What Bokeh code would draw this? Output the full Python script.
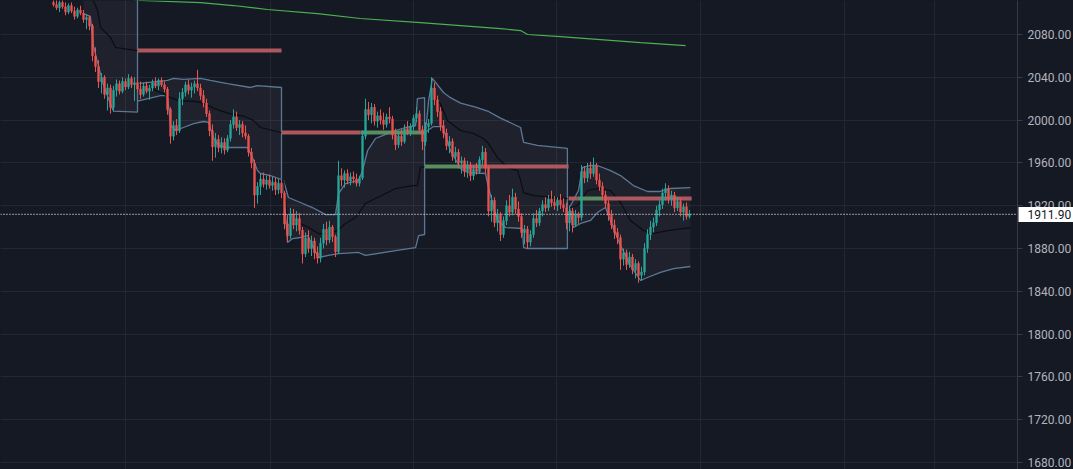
from bokeh.plotting import figure
from bokeh.models import (Range1d, FixedTicker, NumeralTickFormatter, Span, Label, Grid,
                          LinearAxis, ColumnDataSource, GlobalInlineStyleSheet)
from bokeh.embed import file_html
from bokeh.resources import INLINE

# ---------------- data ----------------
first_bar = 1
opens = [2110,2108,2105,2110,2106,2101,2107,2102,2097,2103,
         2100,2094,2096,2088,2060,2050,2036,2040,2024,2030,
         2012,2028,2034,2027,2036,2031,2039,2033,2035,2029,
         2024,2032,2027,2030,2035,2032,2037,2033,2029,2010,
         1985,1995,1990,2020,2026,2033,2028,2031,2034,2030,
         2023,2016,2006,1990,1975,1982,1974,1979,1972,1983,
         1996,2003,1993,1996,1988,1985,1970,1960,1930,1938,
         1945,1940,1944,1939,1942,1935,1941,1932,1903,1892,
         1912,1902,1908,1897,1875,1890,1880,1887,1876,1871,
         1885,1898,1888,1900,1891,1877,1948,1944,1950,1943,
         1947,1945,1941,1946,1985,2010,2005,2012,1999,2004,
         2000,1996,2003,2001,1986,1977,1985,1980,1992,1989,
         1994,2002,2006,1991,1980,1994,1997,2030,2019,2008,
         1995,1988,1976,1980,1966,1970,1960,1962,1952,1958,
         1948,1954,1952,1963,1970,1955,1915,1925,1904,1911,
         1893,1906,1920,1914,1928,1917,1910,1895,1898,1886,
         1893,1908,1904,1915,1921,1918,1926,1923,1920,1925,
         1921,1918,1904,1915,1902,1912,1909,1952,1946,1955,
         1950,1957,1944,1938,1930,1922,1911,1902,1895,1890,
         1870,1876,1865,1872,1860,1866,1855,1858,1880,1893,
         1900,1904,1916,1921,1932,1936,1926,1930,1918,1924,
         1914,1919,1910]
highs = [2116,2113,2112,2114,2110,2109,2110,2106,2105,2107,
         2103,2099,2098,2090,2068,2056,2044,2042,2034,2033,
         2032,2038,2037,2040,2039,2043,2041,2040,2038,2036,
         2035,2036,2033,2038,2040,2039,2040,2036,2031,2012,
         1999,2001,2026,2030,2036,2038,2035,2037,2047,2034,
         2028,2020,2009,1996,1988,1986,1984,1983,1986,2000,
         2010,2008,2000,1999,1995,1987,1974,1963,1942,1950,
         1951,1948,1949,1947,1946,1945,1944,1934,1912,1918,
         1917,1915,1913,1900,1895,1897,1892,1890,1882,1890,
         1903,1905,1906,1902,1893,1962,1955,1953,1954,1951,
         1952,1950,1948,1990,2020,2017,2016,2015,2008,2010,
         2007,2006,2012,2004,1992,1990,1992,1996,1999,1997,
         2005,2012,2009,1995,1998,2001,2040,2035,2023,2012,
         2000,1992,1985,1983,1975,1973,1966,1965,1962,1961,
         1957,1960,1966,1976,1974,1957,1930,1928,1917,1914,
         1910,1925,1930,1936,1932,1924,1913,1902,1901,1897,
         1913,1916,1918,1925,1928,1930,1934,1929,1928,1931,
         1927,1923,1920,1918,1916,1914,1958,1957,1960,1961,
         1965,1960,1950,1942,1934,1925,1916,1907,1899,1893,
         1880,1879,1877,1875,1870,1868,1863,1885,1898,1906,
         1909,1920,1925,1936,1941,1939,1934,1933,1928,1927,
         1922,1923,1916]
lows = [2106,2103,2101,2104,2098,2099,2100,2094,2095,2098,
        2091,2085,2084,2055,2045,2030,2025,2020,2009,2006,
        2008,2022,2024,2025,2028,2029,2030,2018,2026,2020,
        2022,2025,2019,2027,2030,2028,2031,2026,2005,1978,
        1981,1986,1988,2014,2022,2024,2021,2025,2027,2019,
        2012,2003,1985,1962,1965,1970,1969,1968,1970,1980,
        1992,1990,1986,1984,1982,1966,1955,1918,1922,1930,
        1937,1935,1936,1934,1930,1931,1927,1898,1886,1889,
        1898,1896,1893,1866,1872,1876,1873,1870,1866,1867,
        1880,1883,1885,1886,1872,1875,1938,1937,1940,1939,
        1941,1938,1938,1944,1982,2000,1997,1995,1993,1996,
        1991,1993,1997,1982,1972,1974,1976,1978,1986,1985,
        1990,1998,1988,1972,1976,1988,1995,2014,2003,1990,
        1983,1972,1969,1962,1960,1955,1950,1947,1946,1943,
        1944,1949,1950,1958,1950,1910,1905,1900,1896,1887,
        1890,1902,1910,1911,1912,1905,1890,1884,1880,1882,
        1890,1900,1901,1910,1914,1915,1919,1916,1915,1917,
        1914,1898,1896,1895,1900,1903,1906,1941,1942,1945,
        1947,1940,1934,1925,1918,1906,1898,1889,1884,1860,
        1864,1860,1862,1856,1852,1848,1850,1855,1876,1888,
        1895,1901,1910,1917,1925,1922,1920,1914,1915,1910,
        1906,1907,1908]
closes = [2108,2105,2110,2106,2101,2107,2102,2097,2103,2100,
          2094,2096,2088,2060,2050,2036,2040,2024,2030,2012,
          2028,2034,2027,2036,2031,2039,2033,2035,2029,2024,
          2032,2027,2030,2035,2032,2037,2033,2029,2010,1985,
          1995,1990,2020,2026,2033,2028,2031,2034,2030,2023,
          2016,2006,1990,1975,1982,1974,1979,1972,1983,1996,
          2003,1993,1996,1988,1985,1970,1960,1930,1938,1945,
          1940,1944,1939,1942,1935,1941,1932,1903,1892,1912,
          1902,1908,1897,1875,1890,1880,1887,1876,1871,1885,
          1898,1888,1900,1891,1877,1948,1944,1950,1943,1947,
          1945,1941,1946,1985,2010,2005,2012,1999,2004,2000,
          1996,2003,2001,1986,1977,1985,1980,1992,1989,1994,
          2002,2006,1991,1980,1994,1997,2030,2019,2008,1995,
          1988,1976,1980,1966,1970,1960,1962,1952,1958,1948,
          1954,1952,1963,1970,1955,1915,1925,1904,1911,1893,
          1906,1920,1914,1928,1917,1910,1895,1898,1886,1893,
          1908,1904,1915,1921,1918,1926,1923,1920,1925,1921,
          1918,1904,1915,1902,1912,1909,1952,1946,1955,1950,
          1957,1944,1938,1930,1922,1911,1902,1895,1890,1870,
          1876,1865,1872,1860,1866,1855,1858,1880,1893,1900,
          1904,1916,1921,1932,1936,1926,1930,1918,1924,1914,
          1919,1910,1911.9]

# session bands (x in bar index, y in price)
s1_up_x = [11, 29]
s1_up_y = [2140, 2140]
s1_lo_x = [11, 13.3, 14.3, 15.7, 17.7, 20, 21, 29]
s1_lo_y = [2099.6, 2096.8, 2069.7, 2053.8, 2032.3, 2015.0, 2008.5, 2007.5]
s1_mid_x = [11, 13.3, 14.3, 15.7, 16.7, 20, 21.7, 29]
s1_mid_y = [2130.5, 2119.3, 2111.8, 2102.4, 2086.5, 2077.2, 2067.9, 2065.0]

s2_up_x = [29, 39, 41, 44.3, 50, 53.3, 59, 66.7, 69, 77]
s2_up_y = [2034.2, 2037.2, 2039.0, 2038.0, 2039.0, 2037.2, 2034.2, 2030.5, 2032.3, 2030.5]
s2_lo_x = [29, 36.7, 39, 40, 41.7, 44.3, 47.7, 51, 52.7, 54.3, 56, 59, 65.7, 67.3, 69, 70, 73.3, 77]
s2_lo_y = [2017.8, 2022.9, 2022.9, 1994.9, 1990.3, 1993.1, 1996.8, 1998.7, 1997.8, 1983.7,
           1976.3, 1974.4, 1974.4, 1965.0, 1952.8, 1950.1, 1948.2, 1944.5]
s2_mid_x = [29, 36.7, 40, 43.3, 47.7, 51, 54.3, 59, 64.3, 67.7, 70, 76.7, 77]
s2_mid_y = [2034.2, 2025.8, 2021.0, 2017.8, 2017.8, 2015.9, 2011.2, 2006.5, 2003.8, 1999.6, 1993.1, 1988.4, 1988.4]

s3_up_x = [77.7, 79.3, 83.3, 87.3, 91.7, 95, 96, 98.3, 102.7, 104, 105.7, 108.3, 110.7, 115, 118.3, 121.7, 122.3, 124.7]
s3_up_y = [1943.6, 1927.7, 1923.0, 1918.3, 1911.7, 1911.7, 1931.4, 1940.7, 1943.6, 1952.8,
           1971.6, 1982.8, 1985.6, 1990.3, 1993.1, 1994.9, 2020.1, 2021.0]
s3_lo_x = [77.7, 79, 80.7, 83.3, 85.7, 89.3, 92.7, 96, 102.7, 105, 115, 121.7, 122.7, 124.7]
s3_lo_y = [1943.6, 1885.6, 1889.3, 1890.3, 1892.1, 1871.6, 1873.5, 1875.3, 1876.3, 1873.5,
           1878.1, 1880.9, 1892.1, 1893.1]
s3_mid_x = [77.7, 79, 83.3, 86, 89.3, 92.7, 95.7, 98.3, 101.7, 105, 108.3, 111.7, 115, 120.7, 122.3, 123.3, 124.7]
s3_mid_y = [1943.6, 1906.2, 1903.4, 1899.6, 1894.0, 1894.0, 1896.8, 1903.4, 1909.0, 1922.1,
            1926.7, 1931.4, 1936.1, 1938.8, 1938.8, 1955.7, 1956.6]

s4_up_x = [125, 126, 127.3, 131, 133.3, 136.7, 141.7, 145.7, 150, 156.7, 157.7, 162.3, 172.3]
s4_up_y = [1987.5, 2017.8, 2039.0, 2025.8, 2021.0, 2015.9, 2012.1, 2008.5, 2001.9, 1993.1, 1979.1, 1976.3, 1973.5]
s4_lo_x = [125, 125.7, 127.7, 130.7, 133.3, 136.7, 139, 145, 145.7, 147.3, 149, 151.7, 157.3, 157.7, 159, 172.3]
s4_lo_y = [1987.5, 1990.3, 1994.0, 1994.0, 1971.6, 1954.8, 1951.0, 1950.1, 1940.7, 1923.0,
           1906.2, 1899.6, 1898.7, 1880.9, 1880.0, 1880.0]
s4_mid_x = [125, 127.7, 130, 132.3, 136.7, 141, 144.3, 146, 149, 152.3, 155.7, 156.7, 157.7, 161, 172.3]
s4_mid_y = [1987.5, 2022.9, 2015.0, 1999.6, 1990.3, 1987.5, 1982.8, 1978.1, 1965.0, 1955.7,
            1952.8, 1943.6, 1932.3, 1929.5, 1926.7]

s5_up_x = [173, 176, 177.3, 180, 182.3, 186.7, 190, 194.3, 199, 203.3, 206.7, 213.3]
s5_up_y = [1918.3, 1934.2, 1955.7, 1957.6, 1957.6, 1952.8, 1948.2, 1938.8, 1933.3, 1933.3, 1936.1, 1937.0]
s5_lo_x = [173, 174.3, 176.7, 180, 182.3, 185, 187.3, 190, 193.3, 196.7, 199, 203.3, 207.7, 213.3]
s5_lo_y = [1918.3, 1899.6, 1903.4, 1906.2, 1913.6, 1918.3, 1901.5, 1882.8, 1864.1, 1850.1,
           1852.9, 1857.6, 1861.3, 1863.2]
s5_mid_x = [173, 175.7, 179, 182.3, 186.7, 190, 193.3, 197.7, 201, 205.7, 213.3]
s5_mid_y = [1918.3, 1920.2, 1934.2, 1936.1, 1934.2, 1923.0, 1906.2, 1896.8, 1894.0, 1896.8, 1899.6]

# previous-session level lines
lvl_x0 = [29, 77, 103.3, 124.7, 136.7, 172.7, 175.7, 184.3]
lvl_x1 = [77, 103.3, 124.7, 136.7, 172.7, 175.7, 184.3, 213.7]
lvl_y = [2065.0, 1988.4, 1988.4, 1956.6, 1956.6, 1926.7, 1926.7, 1926.7]
lvl_above = [False, False, True, True, False, False, True, False]

# long moving average
ma_x = [23.3, 30, 50, 61, 72.3, 89, 103.3, 123.3, 150, 156.7, 159, 170, 183.3, 196.7, 211.7]
ma_y = [2114.6, 2111.8, 2109.9, 2107.1, 2103.4, 2099.6, 2095.0, 2091.2, 2085.6, 2083.7,
        2080.0, 2078.1, 2075.3, 2072.5, 2069.7]

y_ticks = [1680, 1720, 1760, 1800, 1840, 1880, 1920, 1960, 2000, 2040, 2080]
x_grid_ticks = [25, 73.3, 121, 168.7, 216.7, 264.7, 294.7]
last_price = 1911.9
last_label = "1911.90"

# ---------------- styling ----------------
BG = "#151924"
GRID = "#232733"
UP = "#26a69a"
DOWN = "#ef5350"
BAND = "#5b7896"
BASIS = "#0b0d13"

p = figure(frame_width=1017, frame_height=469,
           x_range=Range1d(-50 / 3, -50 / 3 + 1017 / 3),
           y_range=Range1d(1673.46, 2111.8),
           x_axis_location=None, y_axis_location=None,
           output_backend="svg", toolbar_location=None, min_border=0)
p.background_fill_color = BG
p.border_fill_color = BG
p.outline_line_color = None
p.xgrid.visible = False
p.ygrid.visible = False
p.stylesheets = [GlobalInlineStyleSheet(
    css="html, body { margin: 0 !important; padding: 0; background: #151924; overflow: hidden; }")]

p.add_layout(Grid(dimension=0, ticker=FixedTicker(ticks=x_grid_ticks), grid_line_color=GRID))
p.add_layout(Grid(dimension=1, ticker=FixedTicker(ticks=y_ticks), grid_line_color=GRID))

ax = LinearAxis(ticker=FixedTicker(ticks=y_ticks), formatter=NumeralTickFormatter(format="0.00"))
ax.axis_line_color = "#363a45"
ax.major_tick_line_color = "#363a45"
ax.major_tick_out = 5
ax.major_tick_in = 0
ax.minor_tick_line_color = None
ax.major_label_standoff = 5
ax.major_label_text_color = "#b2b5be"
ax.major_label_text_font = "Roboto"
ax.major_label_text_font_size = "12px"
p.add_layout(ax, "right")

sessions = [
    (s1_up_x, s1_up_y, s1_lo_x, s1_lo_y, s1_mid_x, s1_mid_y, True),
    (s2_up_x, s2_up_y, s2_lo_x, s2_lo_y, s2_mid_x, s2_mid_y, True),
    (s3_up_x, s3_up_y, s3_lo_x, s3_lo_y, s3_mid_x, s3_mid_y, True),
    (s4_up_x, s4_up_y, s4_lo_x, s4_lo_y, s4_mid_x, s4_mid_y, True),
    (s5_up_x, s5_up_y, s5_lo_x, s5_lo_y, s5_mid_x, s5_mid_y, False),
]
for ux, uy, lx, ly, mx, my, closed in sessions:
    p.patch(ux + lx[::-1], uy + ly[::-1], fill_color="#ffffff", fill_alpha=0.045, line_color=None)
for ux, uy, lx, ly, mx, my, closed in sessions:
    if closed:
        p.line(ux + lx[::-1], uy + ly[::-1], line_color=BAND, line_width=1.3)
    else:
        p.line(ux, uy, line_color=BAND, line_width=1.3)
        p.line(lx, ly, line_color=BAND, line_width=1.3)
    p.line(mx, my, line_color=BASIS, line_width=1.2)

lvl_colors = ["#5f9463" if a else "#b45c61" for a in lvl_above]
p.segment(x0=lvl_x0, y0=lvl_y, x1=lvl_x1, y1=lvl_y, line_color=lvl_colors, line_width=4, line_alpha=0.95)

p.line(ma_x, ma_y, line_color="#4caf50", line_width=1.2)

n = min(len(opens), len(highs), len(lows), len(closes))
xs = [first_bar + k for k in range(n)]
cols = [UP if closes[k] >= opens[k] else DOWN for k in range(n)]
src = ColumnDataSource(dict(
    x=xs, h=highs[:n], l=lows[:n],
    top=[max(opens[k], closes[k]) for k in range(n)],
    bot=[min(opens[k], closes[k]) for k in range(n)],
    c=cols))
p.segment(x0="x", y0="h", x1="x", y1="l", line_color="c", line_width=1, source=src)
p.vbar(x="x", width=0.6, top="top", bottom="bot", fill_color="c", line_color="c", line_width=0.5, source=src)

p.add_layout(Span(location=last_price, dimension="width", line_color="#e0e3eb",
                  line_dash="1 2", line_width=1.3))
# price tag lives in the right side panel so it is not clipped to the frame
price_tag = Label(x=-50 / 3 + 1018 / 3, y=last_price, text=last_label,
                  text_color="#131722", text_font="Roboto", text_font_size="12px",
                  text_baseline="middle", text_align="left",
                  background_fill_color="#ffffff",
                  padding=dict(left=9, right=4, top=3, bottom=3))
p.add_layout(price_tag, "right")

open("out.html", "w").write(file_html(p, INLINE))
